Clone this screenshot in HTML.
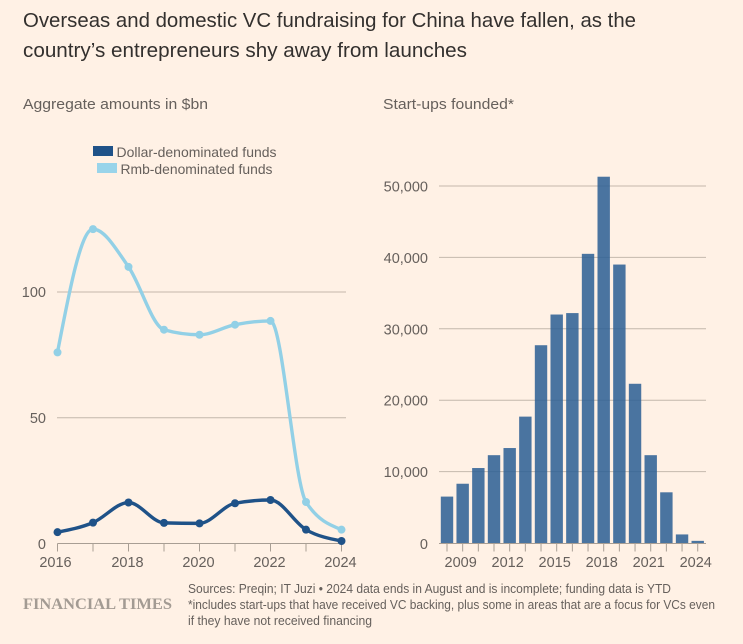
<!DOCTYPE html>
<html><head><meta charset="utf-8"><title>China VC fundraising chart</title>
<style>
html,body{margin:0;padding:0;background:#fff1e5;}
svg{display:block;font-family:"Liberation Sans",sans-serif;}
</style></head>
<body>
<svg id="chart" width="743" height="644" viewBox="0 0 743 644" xmlns="http://www.w3.org/2000/svg">
<rect width="743" height="644" fill="#fff1e5"/>
<text x="23" y="27" font-size="20.500" fill="#33302e" textLength="613" lengthAdjust="spacingAndGlyphs">Overseas and domestic VC fundraising for China have fallen, as the</text>
<text x="23" y="57" font-size="20.500" fill="#33302e" textLength="444" lengthAdjust="spacingAndGlyphs">country’s entrepreneurs shy away from launches</text>
<text x="23" y="109" font-size="15" fill="#66605c" textLength="185" lengthAdjust="spacingAndGlyphs">Aggregate amounts in $bn</text>
<text x="383" y="109" font-size="15" fill="#66605c" textLength="131" lengthAdjust="spacingAndGlyphs">Start-ups founded*</text>
<g>
<rect x="93" y="146" width="20" height="10" fill="#1f5288"/>
<text x="116.500" y="157" font-size="14" fill="#66605c" textLength="160" lengthAdjust="spacingAndGlyphs">Dollar-denominated funds</text>
<rect x="97" y="163" width="20" height="10" fill="#99d4ea"/>
<text x="120.500" y="174" font-size="14" fill="#66605c" textLength="152" lengthAdjust="spacingAndGlyphs">Rmb-denominated funds</text>
</g>
<g id="left"></g>
<g id="right"></g>
<text x="23" y="609" font-family="'Liberation Serif',serif" font-weight="bold" font-size="16" fill="#a39b93" textLength="149" lengthAdjust="spacingAndGlyphs">FINANCIAL TIMES</text>
<text x="188" y="593" font-size="12.500" fill="#66605c" textLength="483" lengthAdjust="spacingAndGlyphs">Sources: Preqin; IT Juzi • 2024 data ends in August and is incomplete; funding data is YTD</text>
<text x="188" y="609" font-size="12.500" fill="#66605c" textLength="527" lengthAdjust="spacingAndGlyphs">*includes start-ups that have received VC backing, plus some in areas that are a focus for VCs even</text>
<text x="188" y="625" font-size="12.500" fill="#66605c" textLength="184" lengthAdjust="spacingAndGlyphs">if they have not received financing</text>
</svg>
<script>
const lineYears = [2016, 2017, 2018, 2019, 2020, 2021, 2022, 2023, 2024];
const rmbFunds = [76, 125, 110, 85, 83, 87, 88.5, 16.5, 5.5];
const dollarFunds = [4.5, 8.3, 16.3, 8.2, 8, 16, 17.3, 5.5, 1];
const lineYTicks = [50, 100];
const lineXLabels = [2016, 2018, 2020, 2022, 2024];
const barYears = [2008, 2009, 2010, 2011, 2012, 2013, 2014, 2015, 2016, 2017, 2018, 2019, 2020, 2021, 2022, 2023, 2024];
const startups = [6500, 8300, 10500, 12300, 13300, 17700, 27700, 32000, 32200, 40500, 51300, 39000, 22300, 12300, 7100, 1200, 300];
const barYTicks = [10000, 20000, 30000, 40000, 50000];
const barXLabels = [2009, 2012, 2015, 2018, 2021, 2024];

const NS = 'http://www.w3.org/2000/svg';
function mk(parent, tag, attrs, text) {
  const e = document.createElementNS(NS, tag);
  for (const k in attrs) e.setAttribute(k, attrs[k]);
  if (text !== undefined) e.textContent = text;
  parent.appendChild(e);
  return e;
}
const GRID = '#c4b8ac', AXIS = '#a89e94', INK = '#66605c';

/* line chart axes */
const lx = v => 57.5 + (v - 2016) * 35.5;
const ly = v => 543.5 - v * 2.515;
/* bar chart axes */
const bx = v => 447 + (v - 2008) * 15.67;
const by = v => 543 - v * 0.00714;

function monotonePath(pts) {
  const n = pts.length, d = [], m = [];
  for (let i = 0; i < n - 1; i++) d.push((pts[i + 1][1] - pts[i][1]) / (pts[i + 1][0] - pts[i][0]));
  for (let i = 1; i < n - 1; i++) {
    if (d[i - 1] * d[i] <= 0) m[i] = 0;
    else {
      const avg = (d[i - 1] + d[i]) / 2;
      m[i] = Math.sign(avg) * Math.min(Math.abs(avg), 2 * Math.abs(d[i - 1]), 2 * Math.abs(d[i]));
    }
  }
  m[0] = (3 * d[0] - m[1]) / 2;
  m[n - 1] = (3 * d[n - 2] - m[n - 2]) / 2;
  let p = 'M' + pts[0][0] + ',' + pts[0][1];
  for (let i = 0; i < n - 1; i++) {
    const h = (pts[i + 1][0] - pts[i][0]) / 3;
    p += 'C' + (pts[i][0] + h) + ',' + (pts[i][1] + m[i] * h) + ' ' + (pts[i + 1][0] - h) + ',' + (pts[i + 1][1] - m[i + 1] * h) + ' ' + pts[i + 1][0] + ',' + pts[i + 1][1];
  }
  return p;
}

const L = document.getElementById('left');
lineYTicks.forEach(t => {
  const g = mk(L, 'line', {x1: 57, x2: 346, y1: ly(t), y2: ly(t), stroke: GRID, 'stroke-width': 1});
  
  
  const lab = mk(L, 'text', {x: 46, y: ly(t) + 5, 'text-anchor': 'end', 'font-size': 14.5, fill: INK}, String(t));
  
  
});
const zeroL = mk(L, 'text', {x: 46, y: 549, 'text-anchor': 'end', 'font-size': 14.5, fill: INK}, '0');


const axL = mk(L, 'line', {x1: 57.5, x2: 342, y1: 543.5, y2: 543.5, stroke: AXIS, 'stroke-width': 1});


lineYears.forEach(y => {
  const t = mk(L, 'line', {x1: lx(y), x2: lx(y), y1: 543.5, y2: 551.5, stroke: AXIS, 'stroke-width': 1});
  
  
});
lineXLabels.forEach(y => {
  const lab = mk(L, 'text', {x: lx(y) - 2 + (y === 2016 ? 0 : 1), y: 567, 'text-anchor': 'middle', 'font-size': 14.5, fill: INK}, String(y));
  
  
});
function drawSeries(vals, color, name) {
  const pts = vals.map((v, i) => [lx(lineYears[i]), ly(v)]);
  const path = mk(L, 'path', {d: monotonePath(pts), fill: 'none', stroke: color, 'stroke-width': 3.4, 'stroke-linejoin': 'round'});
  
  
  pts.forEach(p => {
    const c = mk(L, 'circle', {cx: p[0], cy: p[1], r: 4, fill: color});
    
    
  });
}
drawSeries(rmbFunds, '#92d0e6', 'rmb-funds');
drawSeries(dollarFunds, '#1f5288', 'dollar-funds');

const R = document.getElementById('right');
barYTicks.forEach(t => {
  const g = mk(R, 'line', {x1: 439, x2: 706, y1: by(t), y2: by(t), stroke: GRID, 'stroke-width': 1});
  
  
  const lab = mk(R, 'text', {x: 428, y: by(t) + 5.5, 'text-anchor': 'end', 'font-size': 14.5, fill: INK}, t.toLocaleString('en-US'));
  
  
});
const zeroR = mk(R, 'text', {x: 428, y: 549, 'text-anchor': 'end', 'font-size': 14.5, fill: INK}, '0');


startups.forEach((v, i) => {
  const b = mk(R, 'rect', {x: bx(barYears[i]) - 6.2, y: by(v), width: 12.4, height: 543 - by(v), fill: '#2a5e94', 'fill-opacity': 0.85});
  
  
});
const axR = mk(R, 'line', {x1: 439, x2: 706, y1: 543.5, y2: 543.5, stroke: AXIS, 'stroke-width': 1});


barYears.forEach(y => {
  const t = mk(R, 'line', {x1: bx(y), x2: bx(y), y1: 543.5, y2: 551.5, stroke: AXIS, 'stroke-width': 1});
  
  
});
barXLabels.forEach(y => {
  const lab = mk(R, 'text', {x: bx(y) - 2, y: 567, 'text-anchor': 'middle', 'font-size': 14.5, fill: INK}, String(y));
  
  
});
</script>
</body></html>
